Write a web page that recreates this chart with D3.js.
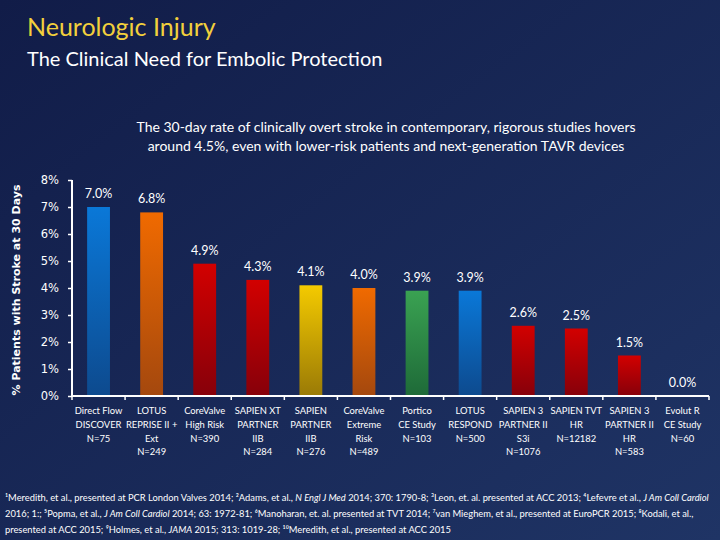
<!DOCTYPE html>
<html><head><meta charset="utf-8">
<script src="https://cdn.jsdelivr.net/npm/d3@7"></script>
<style>html,body{margin:0;padding:0;background:#152555;}svg{display:block;}</style>
</head><body>
<script>
const categories = [
  ["Direct Flow","DISCOVER","N=75"],
  ["LOTUS","REPRISE II +","Ext","N=249"],
  ["CoreValve","High Risk","N=390"],
  ["SAPIEN XT","PARTNER","IIB","N=284"],
  ["SAPIEN","PARTNER","IIB","N=276"],
  ["CoreValve","Extreme","Risk","N=489"],
  ["Portico","CE Study","N=103"],
  ["LOTUS","RESPOND","N=500"],
  ["SAPIEN 3","PARTNER II","S3i","N=1076"],
  ["SAPIEN TVT","HR","N=12182"],
  ["SAPIEN 3","PARTNER II","HR","N=583"],
  ["Evolut R","CE Study","N=60"]
];
const values = [7.0, 6.8, 4.9, 4.3, 4.1, 4.0, 3.9, 3.9, 2.6, 2.5, 1.5, 0.0];
const valueLabels = ["7.0%","6.8%","4.9%","4.3%","4.1%","4.0%","3.9%","3.9%","2.6%","2.5%","1.5%","0.0%"];
const colorKeys = ["blue","orange","red","red","yellow","orange","green","blue","red","red","red","red"];
const yTicks = [0,1,2,3,4,5,6,7,8];
const yTickLabels = ["0%","1%","2%","3%","4%","5%","6%","7%","8%"];

const palette = {
  blue:["#0a78d8","#0d4a8e"],
  orange:["#f06a00","#a4480e"],
  red:["#d20000","#86000a"],
  yellow:["#f4ca00","#9a7a06"],
  green:["#3aa252","#1e6a38"]
};

const W=720,H=540;
const svg=d3.select("body").append("svg").attr("width",W).attr("height",H);
const defs=svg.append("defs");
const bg=defs.append("linearGradient").attr("id","bg").attr("x1","0").attr("y1","0").attr("x2","1").attr("y2","1");
bg.append("stop").attr("offset","0").attr("stop-color","#111c48");
bg.append("stop").attr("offset","1").attr("stop-color","#1f3465");
svg.append("rect").attr("width",W).attr("height",H).attr("fill","url(#bg)");
Object.entries(palette).forEach(([k,c])=>{
  const g=defs.append("linearGradient").attr("id","g-"+k).attr("x1","0").attr("y1","0").attr("x2","0").attr("y2","1");
  g.append("stop").attr("offset","0").attr("stop-color",c[0]);
  g.append("stop").attr("offset","1").attr("stop-color",c[1]);
});

// Titles
svg.append("text").attr("x",27).attr("y",36).attr("fill","#f2d03c")
  .style("font-family","Lato, 'Open Sans', sans-serif").style("font-size","25px").text("Neurologic Injury");
svg.append("text").attr("x",27).attr("y",66).attr("fill","#ffffff")
  .style("font-family","Lato, 'Open Sans', sans-serif").style("font-size","20px").text("The Clinical Need for Embolic Protection");
const desc=["The 30-day rate of clinically overt stroke in contemporary, rigorous studies hovers",
            "around 4.5%, even with lower-risk patients and next-generation TAVR devices"];
desc.forEach((t,i)=>svg.append("text").attr("x",386).attr("y",132+i*19).attr("text-anchor","middle")
  .attr("fill","#ffffff").style("font-family","Lato, sans-serif").style("font-size","14px").text(t));

// Scales
const x0=72,x1=709,yb=396,yt=180;
const xBand=d3.scaleBand().domain(d3.range(categories.length)).range([x0,x1]).padding(0);
const xBar=d3.scaleBand().domain(d3.range(categories.length)).range([x0,x1]).paddingInner(0.57).paddingOuter(0.285);
const y=d3.scaleLinear().domain([0,8]).range([yb,yt]);

// Bars
svg.append("g").selectAll("rect").data(values).join("rect")
  .attr("x",(d,i)=>xBar(i)).attr("width",xBar.bandwidth())
  .attr("y",d=>y(d)).attr("height",d=>y(0)-y(d))
  .attr("fill",(d,i)=>"url(#g-"+colorKeys[i]+")");

// Value labels
svg.append("g").selectAll("text").data(values).join("text")
  .attr("x",(d,i)=>xBar(i)+xBar.bandwidth()/2).attr("y",d=>y(d)-9)
  .attr("text-anchor","middle").attr("fill","#ffffff")
  .style("font-family","Lato, sans-serif").style("font-size","12.5px")
  .text((d,i)=>valueLabels[i]);

// Y axis
const yAxis=d3.axisLeft(y).tickValues(yTicks).tickFormat((d,i)=>yTickLabels[i]).tickSize(4).tickPadding(9);
const ya=svg.append("g").attr("transform",`translate(${x0},0)`).call(yAxis);
ya.select(".domain").attr("stroke","#ffffff").attr("stroke-width",2).attr("d",`M0,${yt}V${yb}`);
ya.selectAll(".tick line").attr("stroke","#ffffff").attr("stroke-width",1.5);
ya.selectAll(".tick text").attr("fill","#ffffff").style("font-family","'DejaVu Sans', sans-serif").style("font-size","11.5px");

// X axis line and ticks at band boundaries
const xa=svg.append("g");
xa.append("line").attr("x1",x0).attr("x2",x1).attr("y1",yb).attr("y2",yb).attr("stroke","#ffffff").attr("stroke-width",2);
xa.selectAll("line.t").data(d3.range(categories.length+1)).join("line").attr("class","t")
  .attr("x1",i=>i<categories.length?xBand(i):xBand(i-1)+xBand.bandwidth())
  .attr("x2",i=>i<categories.length?xBand(i):xBand(i-1)+xBand.bandwidth())
  .attr("y1",yb).attr("y2",yb+4).attr("stroke","#ffffff").attr("stroke-width",1.5);

// Category labels
const cl=svg.append("g").selectAll("text").data(categories).join("text")
  .attr("x",(d,i)=>xBand(i)+xBand.bandwidth()/2).attr("y",414)
  .attr("text-anchor","middle").attr("fill","#ffffff")
  .style("font-family","Lato, sans-serif").style("font-size","9.4px");
cl.selectAll("tspan").data(d=>d).join("tspan")
  .attr("x",function(){return this.parentNode.getAttribute("x");})
  .attr("dy",(d,i)=>i===0?0:13.8).text(d=>d);

// Y axis title
svg.append("text").attr("transform","translate(20,290) rotate(-90)").attr("text-anchor","middle")
  .attr("fill","#ffffff").style("font-family","'DejaVu Sans', sans-serif").style("font-size","11px")
  .style("font-weight","bold").text("% Patients with Stroke at 30 Days");

// Footnotes
const foot=[
  [["¹Meredith, et al., presented at PCR London Valves 2014; ²Adams, et al., ",0],["N Engl J Med",1],[" 2014; 370: 1790-8; ³Leon, et. al. presented at ACC 2013; ⁴Lefevre et al., ",0],["J Am Coll Cardiol",1]],
  [["2016; 1:; ⁵Popma, et al., ",0],["J Am Coll Cardiol",1],[" 2014; 63: 1972-81; ⁶Manoharan, et. al. presented at TVT 2014; ⁷van Mieghem, et al., presented at EuroPCR 2015; ⁸Kodali, et al.,",0]],
  [["presented at ACC 2015; ⁹Holmes, et al., ",0],["JAMA",1],[" 2015; 313: 1019-28; ¹⁰Meredith, et al., presented at ACC 2015",0]]
];
const footTexts=foot.map((line,li)=>{
  const t=svg.append("text").attr("x",5).attr("y",501+li*16).attr("fill","#ffffff")
    .style("font-family","Lato, sans-serif").style("font-size","10px");
  line.forEach(([s,it])=>t.append("tspan").style("font-style",it?"italic":"normal").text(s));
  return t;
});
// fit the longest line (line 1) to ~704px and use the same size for all lines
const w0=footTexts[0].node().getComputedTextLength();
const fs=Math.min(10.5,10*704/w0);
footTexts.forEach(t=>t.style("font-size",fs+"px"));
</script>
</body></html>
